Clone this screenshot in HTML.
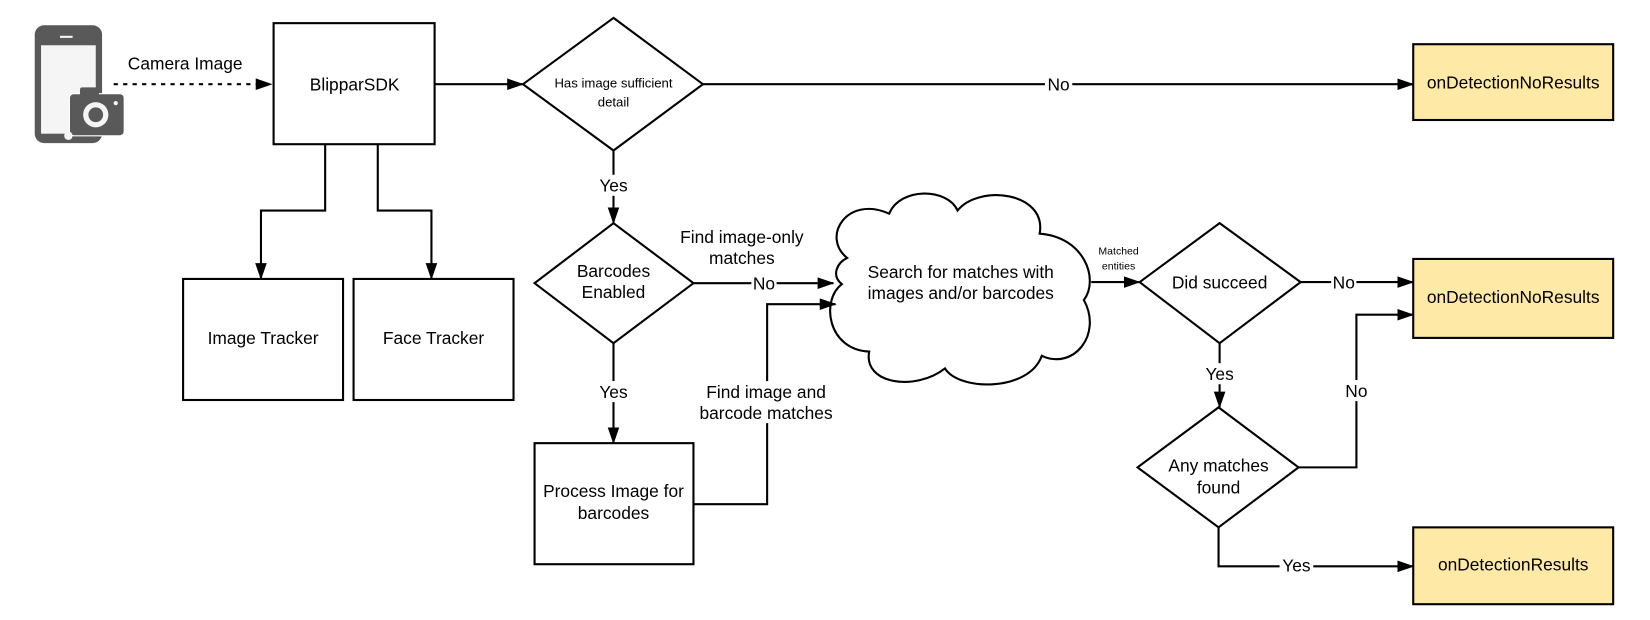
<!DOCTYPE html>
<html><head><meta charset="utf-8"><style>
html,body{margin:0;padding:0;background:#fff;}
svg{display:block;}
text{font-family:"Liberation Sans",Arial,sans-serif;fill:#000;}
</style></head><body>
<svg width="1650" height="620" viewBox="0 0 1568 589" preserveAspectRatio="none" xmlns="http://www.w3.org/2000/svg">
<defs>
<marker id="a" markerWidth="16" markerHeight="12" refX="15" refY="6" orient="auto" markerUnits="userSpaceOnUse">
<path d="M0,0.5 L16,6 L0,11.5 Z" fill="#000"/>
</marker>
</defs>
<g stroke="#000" stroke-width="2" fill="none">
<rect x="33" y="24" width="64" height="112" rx="9" fill="#595959" stroke="none"/>
<rect x="39" y="43" width="52" height="84" fill="#f5f5f5" stroke="none"/>
<rect x="57" y="34" width="12" height="2" fill="#f5f5f5" stroke="none"/>
<rect x="66" y="89" width="52" height="40" rx="4" fill="#595959" stroke="#fff" stroke-width="1"/>
<rect x="76" y="83" width="18" height="8" rx="2" fill="#595959" stroke="none"/>
<circle cx="91" cy="109" r="12" fill="#f5f5f5" stroke="none"/>
<circle cx="91" cy="109" r="7" fill="#595959" stroke="none"/>
<circle cx="110" cy="98" r="2" fill="#f5f5f5" stroke="none"/>
<circle cx="65" cy="129" r="4" fill="#f5f5f5" stroke="none"/>
<line x1="108" y1="80" x2="258" y2="80" stroke-dasharray="4,5" marker-end="url(#a)"/>
<rect x="260" y="22" width="153" height="115"/>
<rect x="174" y="265" width="152" height="115"/>
<rect x="336" y="265" width="152" height="115"/>
<rect x="508" y="421" width="151" height="115"/>
<rect x="1343" y="42" width="190" height="72" fill="#ffe9a6"/>
<rect x="1343" y="246" width="190" height="75" fill="#ffe9a6"/>
<rect x="1343" y="501" width="190" height="73" fill="#ffe9a6"/>
<polygon points="583,17 668,80 583,143 497,80" fill="#fff"/>
<polygon points="583,212 659,269 583,326 508,269" fill="#fff"/>
<polygon points="1159,212 1236,268 1159,326 1083,268" fill="#fff"/>
<polygon points="1158,387 1234,444 1158,501 1081,444" fill="#fff"/>
<path d="M805,245 C780,225 805,185 845,203 C855,178 900,178 910,200 C930,175 995,182 988,222 C1030,225 1045,265 1030,285 C1048,318 1020,352 990,338 C978,372 912,372 898,350 C870,372 820,365 826,334 C786,332 780,285 800,270 C790,262 795,250 805,245 Z" fill="#fff"/>
<line x1="413" y1="80" x2="497" y2="80" marker-end="url(#a)"/>
<line x1="668" y1="80" x2="1343" y2="80" marker-end="url(#a)"/>
<polyline points="309,137 309,200 248,200 248,265" marker-end="url(#a)"/>
<polyline points="359,137 359,200 410,200 410,265" marker-end="url(#a)"/>
<line x1="583" y1="143" x2="583" y2="212" marker-end="url(#a)"/>
<line x1="659" y1="269" x2="792" y2="269" marker-end="url(#a)"/>
<line x1="583" y1="326" x2="583" y2="421" marker-end="url(#a)"/>
<polyline points="659,479 729,479 729,289 794,289" marker-end="url(#a)"/>
<line x1="1037" y1="268" x2="1083" y2="268" marker-end="url(#a)"/>
<line x1="1236" y1="268" x2="1343" y2="268" marker-end="url(#a)"/>
<line x1="1159" y1="326" x2="1159" y2="387" marker-end="url(#a)"/>
<polyline points="1234,444 1289,444 1289,299 1343,299" marker-end="url(#a)"/>
<polyline points="1158,501 1158,538 1343,538" marker-end="url(#a)"/>
</g>
<g fill="#fff">
<rect x="564" y="166" width="38" height="20"/>
<rect x="993" y="71" width="26" height="18"/>
<rect x="714" y="260" width="24" height="18"/>
<rect x="564" y="362" width="38" height="20"/>
<rect x="1265" y="259" width="24" height="18"/>
<rect x="1140" y="345" width="38" height="20"/>
<rect x="1277" y="361" width="24" height="20"/>
<rect x="1216" y="528" width="32" height="18"/>
<rect x="664" y="362" width="130" height="40"/>
</g>
<g font-size="16.5" text-anchor="middle">
<text x="176" y="66">Camera Image</text>
<text x="337" y="86">BlipparSDK</text>
<text x="250" y="327">Image Tracker</text>
<text x="412" y="327">Face Tracker</text>
<text x="583" y="472">Process Image for</text>
<text x="583" y="493">barcodes</text>
<text x="583" y="263">Barcodes</text>
<text x="583" y="283">Enabled</text>
<text x="1159" y="274">Did succeed</text>
<text x="1158" y="448">Any matches</text>
<text x="1158" y="469">found</text>
<text x="913" y="264">Search for matches with</text>
<text x="913" y="284">images and/or barcodes</text>
<text x="1438" y="84">onDetectionNoResults</text>
<text x="1438" y="288">onDetectionNoResults</text>
<text x="1438" y="542">onDetectionResults</text>
<text x="1006" y="86">No</text>
<text x="583" y="182">Yes</text>
<text x="583" y="378">Yes</text>
<text x="726" y="275">No</text>
<text x="705" y="231">Find image-only</text>
<text x="705" y="251">matches</text>
<text x="728" y="378">Find image and</text>
<text x="728" y="398">barcode matches</text>
<text x="1277" y="274">No</text>
<text x="1159" y="361">Yes</text>
<text x="1289" y="377">No</text>
<text x="1232" y="543">Yes</text>
</g>
<g font-size="12.5" text-anchor="middle">
<text x="583" y="83">Has image sufficient</text>
<text x="583" y="101">detail</text>
</g>
<g font-size="10" text-anchor="middle">
<text x="1063" y="242">Matched</text>
<text x="1063" y="256">entities</text>
</g>
</svg>
</body></html>
